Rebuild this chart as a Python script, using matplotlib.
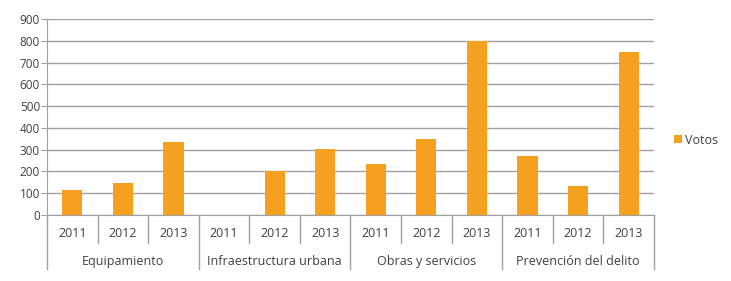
import numpy as np
import matplotlib.pyplot as plt
from matplotlib.lines import Line2D
from matplotlib.patches import Patch

plt.rcParams['font.family'] = ['Open Sans', 'DejaVu Sans']

groups = ['Equipamiento', 'Infraestructura urbana', 'Obras y servicios', 'Prevención del delito']
years = ['2011', '2012', '2013']
votos = [115, 147, 333,
         0, 202, 303,
         234, 347, 800,
         271, 131, 750]

bar_color = '#F5A01F'
grid_color = '#A0A0A0'
text_color = '#404040'

fig = plt.figure(figsize=(7.31, 2.81), dpi=100)
ax = fig.add_axes([47 / 731, 66 / 281, 607 / 731, 196 / 281])

n = len(votos)
x = np.arange(n)
ax.bar(x, votos, width=0.4, color=bar_color, zorder=3)

ax.set_xlim(-0.5, n - 0.5)
ax.set_ylim(0, 900)
ax.set_yticks(range(0, 901, 100))
ax.yaxis.grid(True, color=grid_color, linewidth=1)
ax.set_axisbelow(True)
for s in ['top', 'right']:
    ax.spines[s].set_visible(False)
ax.spines['left'].set_color(grid_color)
ax.spines['bottom'].set_color(grid_color)
ax.tick_params(axis='y', length=4, color=grid_color, labelsize=8.5, labelcolor=text_color, pad=1)
ax.set_xticks([])

# category axis: year labels, group labels and separators
trans = ax.get_xaxis_transform()
for i in range(n):
    ax.text(i, -0.092, years[i % 3], transform=trans, ha='center', va='center',
            fontsize=9, color=text_color)
for g, name in enumerate(groups):
    ax.text(g * 3 + 1, -0.235, name, transform=trans, ha='center', va='center',
            fontsize=9, color=text_color)
for i in range(n + 1):
    depth = -0.276 if i % 3 == 0 else -0.143
    ax.add_line(Line2D([i - 0.5, i - 0.5], [0, depth], transform=trans,
                       color=grid_color, linewidth=1, clip_on=False))

handles = [Patch(facecolor=bar_color, label='Votos')]
fig.legend(handles=handles, loc='center left', bbox_to_anchor=(674 / 731, 1 - 140 / 281),
           frameon=False, fontsize=9, handlelength=0.6, handleheight=0.6,
           handletextpad=0.3, borderpad=0, borderaxespad=0, labelcolor=text_color)

fig.savefig('out.png', dpi=100)
